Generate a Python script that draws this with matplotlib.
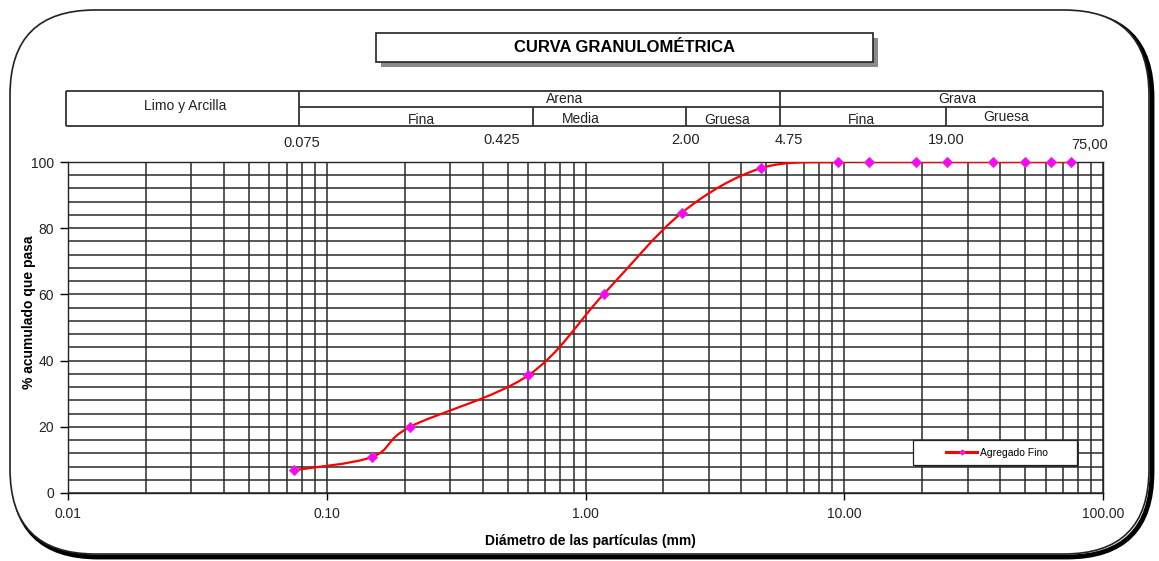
import numpy as np
import matplotlib
matplotlib.use("Agg")
import matplotlib.pyplot as plt
from matplotlib.path import Path
from matplotlib.patches import PathPatch, FancyBboxPatch, Rectangle
from matplotlib.lines import Line2D
from matplotlib.ticker import LogLocator, MultipleLocator, FixedLocator, NullFormatter

plt.rcParams['font.family'] = ['Liberation Sans', 'DejaVu Sans']

# Sieve data: particle diameter (mm) and cumulative % passing
diametro = [0.075, 0.15, 0.21, 0.6, 1.18, 2.36, 4.75, 9.5, 12.5, 19.0, 25.0, 37.5, 50.0, 63.0, 75.0]
pasa = [6.9, 10.9, 20.0, 35.5, 60.2, 84.7, 98.1, 100, 100, 100, 100, 100, 100, 100, 100]

x_ticks = [0.01, 0.1, 1, 10, 100]
x_ticklabels = ["0.01", "0.10", "1.00", "10.00", "100.00"]
y_ticks = [0, 20, 40, 60, 80, 100]

# header table: (label, x_center_px, y_center_px)
header_top = [("Limo y Arcilla", 185, 106), ("Arena", 565, 99), ("Grava", 957, 99)]
header_sub = [("Fina", 421, 120), ("Media", 581, 119), ("Gruesa", 727, 120),
              ("Fina", 861, 120), ("Gruesa", 1006, 117)]
limites = [("0.075", 302, 143), ("0.425", 502, 140), ("2.00", 686, 140),
           ("4.75", 789, 140), ("19.00", 946, 140), ("75,00", 1090, 145)]

W, H = 1159, 561
fig = plt.figure(figsize=(W / 100, H / 100), dpi=100)

# overlay axes in pixel units for frame, title and header table
ov = fig.add_axes([0, 0, 1, 1], zorder=0)
ov.set_xlim(0, W)
ov.set_ylim(H, 0)
ov.axis('off')

shadow = FancyBboxPatch((13, 13), 1139, 544, boxstyle="round,pad=0,rounding_size=85",
                        fc='none', ec='black', lw=3.5)
ov.add_patch(shadow)
frame = FancyBboxPatch((10, 10), 1139, 544, boxstyle="round,pad=0,rounding_size=85",
                       fc='white', ec='#222222', lw=1.2)
ov.add_patch(frame)

# title box with shadow
ov.add_patch(Rectangle((381, 38), 497, 29, fc='#8a8a8a', ec='none'))
ov.add_patch(Rectangle((376, 33), 497, 29, fc='white', ec='#222222', lw=1.2))
ov.text(624.5, 47.5, "CURVA GRANULOMÉTRICA", ha='center', va='center',
        fontsize=12, fontweight='bold')

# header table lines
lc = dict(color='#333333', lw=1.3, solid_capstyle='butt')
ov.plot([66, 1103], [91, 91], **lc)
ov.plot([299, 1103], [107, 107], **lc)
ov.plot([66, 1103], [126, 126], **lc)
for xv in [66, 299, 780, 1103]:
    ov.plot([xv, xv], [91, 126], **lc)
for xv in [533, 686, 946]:
    ov.plot([xv, xv], [107, 126], **lc)
for lab, xc, yc in header_top + header_sub:
    ov.text(xc, yc, lab, ha='center', va='center', fontsize=10, color='#222222')
for lab, xc, yc in limites:
    ov.text(xc, yc, lab, ha='center', va='center', fontsize=10.5, color='#222222')

# main chart
x0, x1, y0, y1 = 68, 1103, 162, 493
ax = fig.add_axes([x0 / W, 1 - y1 / H, (x1 - x0) / W, (y1 - y0) / H], zorder=1)
ax.set_xscale('log')
ax.set_xlim(0.01, 100)
ax.set_ylim(0, 100)
ax.set_facecolor('white')

ax.xaxis.set_major_locator(FixedLocator(x_ticks))
ax.set_xticklabels(x_ticklabels)
ax.xaxis.set_minor_locator(LogLocator(base=10, subs=np.arange(2, 10)))
ax.xaxis.set_minor_formatter(NullFormatter())
ax.set_yticks(y_ticks)
ax.yaxis.set_minor_locator(MultipleLocator(4))
ax.tick_params(axis='both', which='major', direction='out', width=1,
               labelsize=10, labelcolor='#222222')
ax.tick_params(axis='x', which='major', length=5, pad=5)
ax.tick_params(axis='y', which='major', length=6, pad=4)
ax.tick_params(which='minor', length=0)
ax.grid(True, which='both', color='#2a2a2a', lw=1.1)
ax.set_axisbelow(True)
for sp in ax.spines.values():
    sp.set_color('#222222')
    sp.set_linewidth(1)

# smoothed curve (cubic Bezier, Excel-like) built in display-like units
k = (x1 - x0) / 4.0
s = (y1 - y0) / 100.0
u = np.log10(diametro) * k
v = np.array(pasa) * s
pts = np.column_stack([u, v])
n = len(pts)
verts = [pts[0]]
codes = [Path.MOVETO]
for i in range(n - 1):
    p_prev = pts[max(i - 1, 0)]
    p0, p1 = pts[i], pts[i + 1]
    p_next = pts[min(i + 2, n - 1)]
    c1 = p0 + (p1 - p_prev) / 6.0
    c2 = p1 - (p_next - p0) / 6.0
    verts += [c1, c2, p1]
    codes += [Path.CURVE4] * 3
verts = np.array(verts)
data_verts = np.column_stack([10 ** (verts[:, 0] / k), verts[:, 1] / s])
ax.add_patch(PathPatch(Path(data_verts, codes), fc='none', ec='#ff0000', lw=1.6, zorder=3))
ax.plot(diametro, pasa, ls='none', marker='D', ms=5.5, mfc='#ff00ff', mec='#dd33cc',
        mew=0.8, zorder=4, clip_on=False)

# legend box drawn in pixel space (wider than matplotlib's own frame)
ax.add_patch(Rectangle((915, 442), 164, 25, transform=ov.transData, fc='#333333',
                       ec='none', zorder=5, clip_on=False))
ax.add_patch(Rectangle((913, 440), 164, 25, transform=ov.transData, fc='white',
                       ec='#222222', lw=0.9, zorder=5.1, clip_on=False))
handle = Line2D([], [], color='#ff0000', lw=2.2, marker='D', ms=2.5, mfc='#ff00ff', mec='#dd33cc')
leg = ax.legend(handles=[handle], labels=["Agregado Fino"], loc='center left',
                bbox_to_anchor=((946 - x0) / (x1 - x0), (y1 - 452.5) / (y1 - y0)),
                fontsize=7.5, frameon=False, borderpad=0, borderaxespad=0,
                handlelength=3.0, handletextpad=0.3)
leg.set_zorder(6)

fig.text(29 / W, 1 - 312 / H, "% acumulado que pasa", rotation=90, ha='center', va='center',
         fontsize=10, fontweight='bold')
fig.text(590 / W, 1 - 541 / H, "Diámetro de las partículas (mm)", ha='center', va='center',
         fontsize=10, fontweight='bold')

fig.savefig("out.png", dpi=100, facecolor='white')
